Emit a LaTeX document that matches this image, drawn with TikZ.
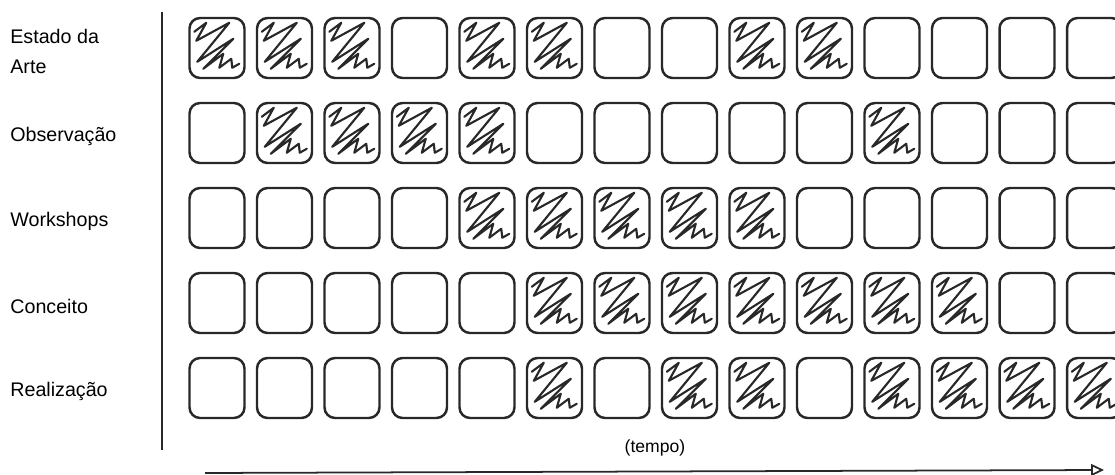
\documentclass[tikz,border=0pt]{standalone}
\usepackage{fontspec}
\setmainfont{Liberation Sans}
\usetikzlibrary{arrows.meta,positioning,calc}
\definecolor{inkgray}{RGB}{40,40,40}
\tikzset{
  cell/.style={draw=inkgray, line width=1.4pt, rounded corners=6pt,
               minimum width=1.1cm, minimum height=1.2cm, inner sep=0pt},
  zig/.style={draw=inkgray, line width=1.2pt, line join=round, line cap=round},
  rowlabel/.style={anchor=west, align=left, inner sep=0pt,
                   font=\fontsize{11.2}{17}\selectfont},
  axisline/.style={draw=inkgray, line width=1.1pt},
  timeflow/.style={-{Triangle[open, length=2.6mm, width=2.4mm]}, line width=1pt, draw=inkgray},
}

\begin{document}
\begin{tikzpicture}[x=0.02cm, y=-0.02cm]
  \useasboundingbox (0,0) rectangle (1115,475);
  \foreach \r/\lab/\pat in {
      1/{Estado da\\Arte}/{1,1,1,0,1,1,0,0,1,1,0,0,0,0},
      2/{Observação}/{0,1,1,1,1,0,0,0,0,0,1,0,0,0},
      3/{Workshops}/{0,0,0,0,1,1,1,1,1,0,0,0,0,0},
      4/{Conceito}/{0,0,0,0,0,1,1,1,1,1,1,1,0,0},
      5/{Realização}/{0,0,0,0,0,1,0,1,1,0,1,1,1,1}}{
    \node[rowlabel] (lbl-\r) at (10, {47.5+85*(\r-1)+4}) {\lab};
    \foreach \h [count=\c] in \pat {
      \node[cell] (c-\r-\c) at ({217+67.5*(\c-1)}, {48+85*(\r-1)}) {};
      \ifnum\h=1
        \begin{scope}[shift={(c-\r-\c.north west)}]
          \draw[zig] (6,15) -- (18,6) -- (8,24) -- (41,6) -- (9,45) -- (45,22)
            -- (15,52) -- (35,37) -- (31,51) -- (43,42) -- (44,51) -- (51,47);
        \end{scope}
      \fi
    }
  }
  \coordinate (axtop) at (162,12);
  \coordinate (axbot) at (162,450);
  \draw[axisline] (axtop) -- (axbot);
  \node[font=\fontsize{10}{12}\selectfont] (tempo) at (655,448) {(tempo)};
  \coordinate (t0) at (205,473);
  \coordinate (t1) at (1104,470);
  \draw[timeflow] (t0) -- (t1);
\end{tikzpicture}
\end{document}
